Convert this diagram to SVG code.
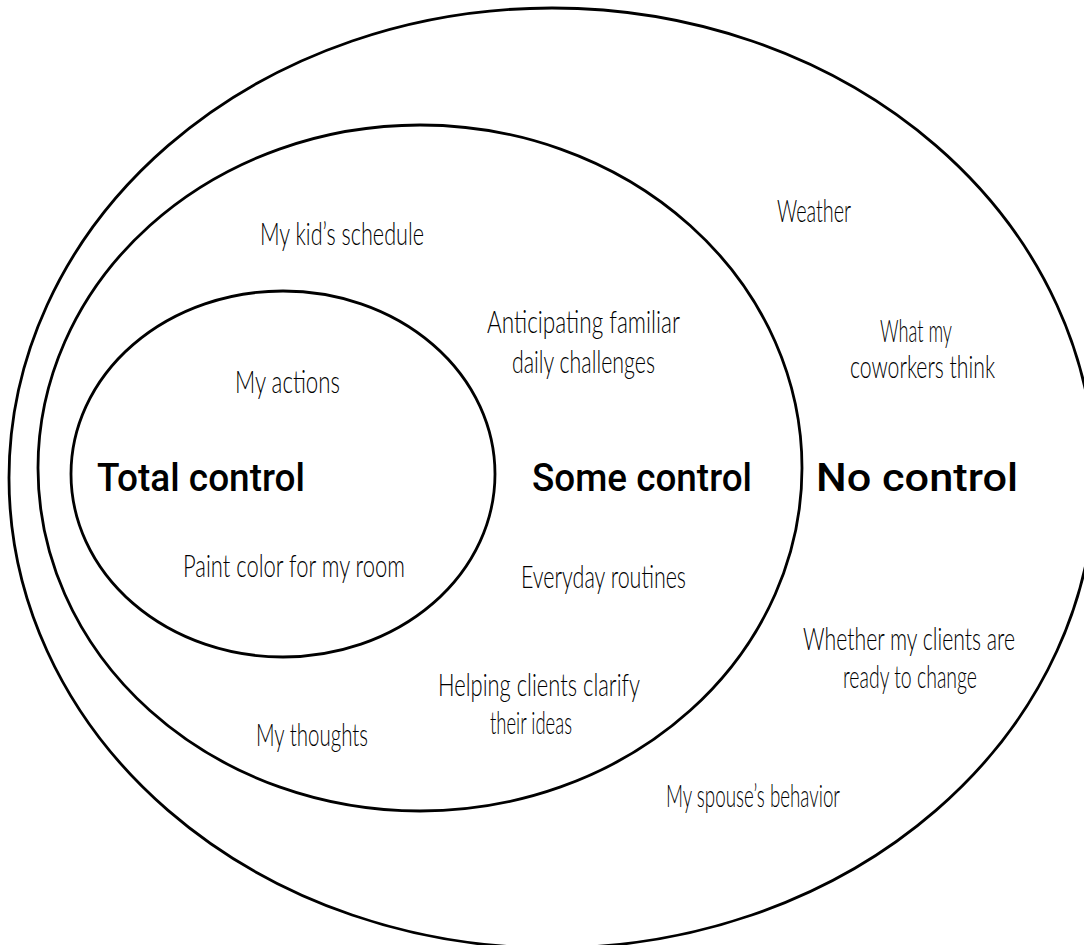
<svg xmlns="http://www.w3.org/2000/svg" width="1084" height="945" viewBox="0 0 1084 945">
<style>
.ring{fill:none;stroke:#000;stroke-width:2.8}
.hand{font-family:Lato,"Liberation Sans",sans-serif;font-weight:300;font-size:31px;fill:#000}
.big{font-family:Roboto,"Liberation Sans",sans-serif;font-weight:500;font-size:38px;fill:#000}
</style>
<rect width="1084" height="945" fill="#fff"/>
<g id="outer"><ellipse class="ring" cx="552" cy="478" rx="543" ry="470"/></g>
<g id="middle"><ellipse class="ring" cx="420" cy="468" rx="382" ry="343"/></g>
<g id="inner"><ellipse class="ring" cx="283" cy="474" rx="212" ry="183"/></g>
<g id="connectors"></g>
<g id="labels-total">
<text class="big" x="97" y="491" textLength="208" lengthAdjust="spacingAndGlyphs">Total control</text>
<text class="hand" x="235" y="393" textLength="105" lengthAdjust="spacingAndGlyphs">My actions</text>
<text class="hand" x="183" y="577" textLength="222" lengthAdjust="spacingAndGlyphs">Paint color for my room</text>
</g>
<g id="labels-some">
<text class="big" x="532" y="491" textLength="220" lengthAdjust="spacingAndGlyphs">Some control</text>
<text class="hand" x="260" y="245" textLength="164" lengthAdjust="spacingAndGlyphs">My kid’s schedule</text>
<text class="hand" x="487" y="333" textLength="193" lengthAdjust="spacingAndGlyphs">Anticipating familiar</text>
<text class="hand" x="512" y="373" textLength="143" lengthAdjust="spacingAndGlyphs">daily challenges</text>
<text class="hand" x="521" y="588" textLength="165" lengthAdjust="spacingAndGlyphs">Everyday routines</text>
<text class="hand" x="438" y="696" textLength="202" lengthAdjust="spacingAndGlyphs">Helping clients clarify</text>
<text class="hand" x="490" y="734" textLength="82" lengthAdjust="spacingAndGlyphs">their ideas</text>
<text class="hand" x="256" y="746" textLength="112" lengthAdjust="spacingAndGlyphs">My thoughts</text>
</g>
<g id="labels-none">
<text class="big" x="816" y="491" textLength="202" lengthAdjust="spacingAndGlyphs">No control</text>
<text class="hand" x="777" y="222" textLength="74" lengthAdjust="spacingAndGlyphs">Weather</text>
<text class="hand" x="880" y="342" textLength="72" lengthAdjust="spacingAndGlyphs">What my</text>
<text class="hand" x="850" y="378" textLength="145" lengthAdjust="spacingAndGlyphs">coworkers think</text>
<text class="hand" x="803" y="650" textLength="212" lengthAdjust="spacingAndGlyphs">Whether my clients are</text>
<text class="hand" x="843" y="688" textLength="134" lengthAdjust="spacingAndGlyphs">ready to change</text>
<text class="hand" x="666" y="807" textLength="174" lengthAdjust="spacingAndGlyphs">My spouse’s behavior</text>
</g>
</svg>
